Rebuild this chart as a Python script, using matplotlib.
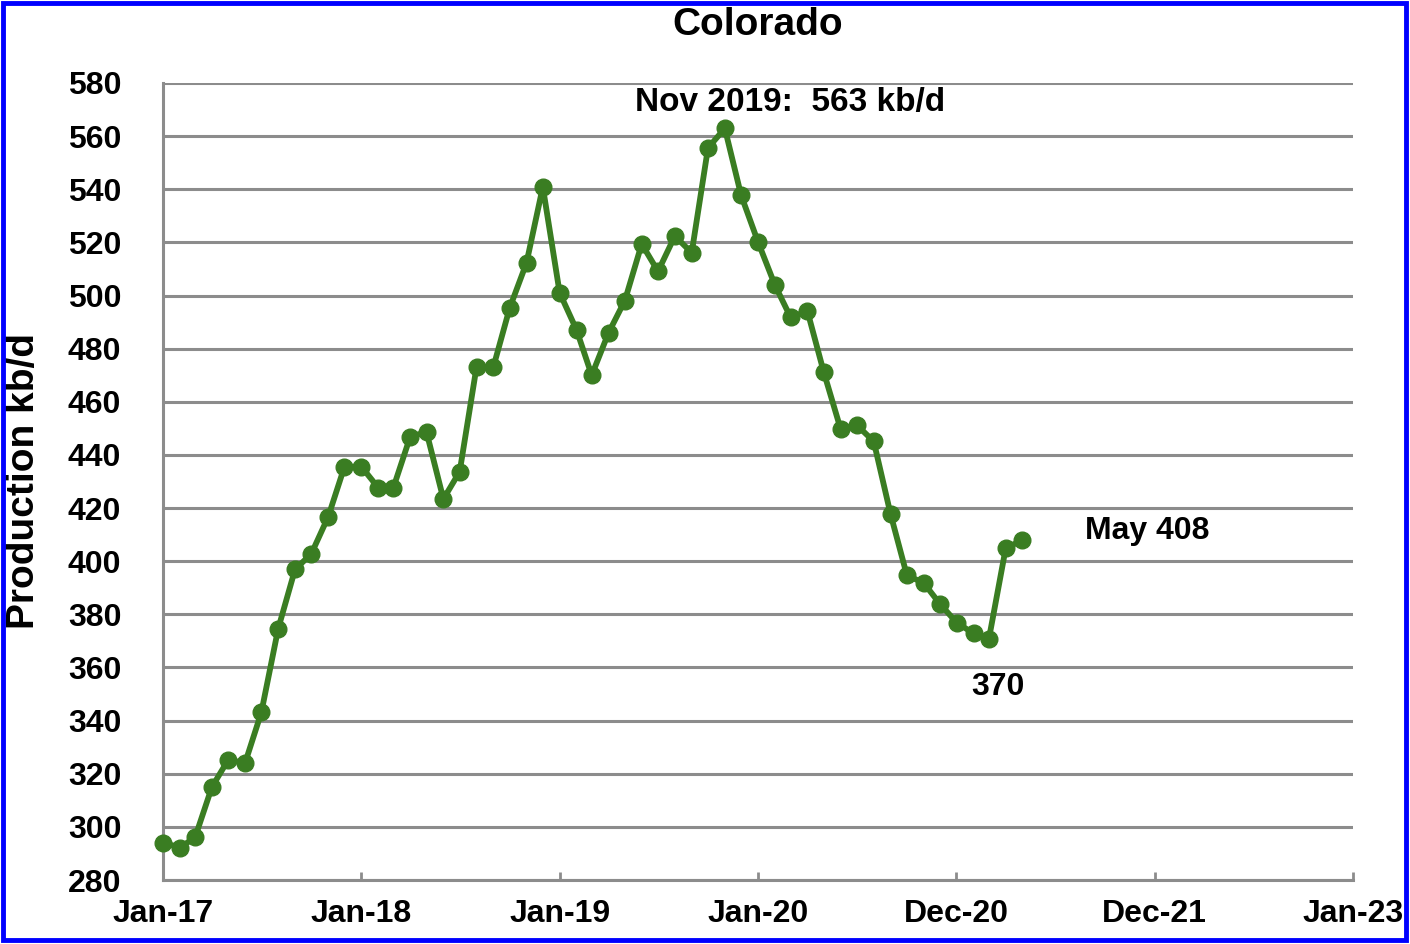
import datetime
import matplotlib
matplotlib.use('Agg')
import matplotlib.pyplot as plt
import matplotlib.dates as mdates
from matplotlib.patches import Rectangle

# monthly production, Jan 2017 .. May 2021 (kb/d)
production = [294.1, 292.2, 296.0, 315.0, 325.2, 324.0, 343.1, 374.6, 396.9, 402.8, 416.7, 435.6,
              435.6, 427.7, 427.7, 446.9, 448.6, 423.4, 433.7, 473.1, 473.1, 495.3, 512.3, 540.9,
              501.0, 487.1, 470.0, 486.0, 498.1, 519.4, 509.1, 522.4, 516.1, 555.6, 562.9, 537.7,
              520.2, 504.0, 491.8, 494.1, 471.2, 449.8, 451.2, 445.1, 417.7, 394.7, 391.8, 383.9,
              376.8, 372.8, 370.8, 405.0, 407.8]
months = [datetime.date(2017 + i // 12, i % 12 + 1, 1) for i in range(len(production))]

tick_labels = ['Jan-17', 'Jan-18', 'Jan-19', 'Jan-20', 'Dec-20', 'Dec-21', 'Jan-23']
y_ticks = list(range(280, 581, 20))

start = datetime.date(2017, 1, 1)
tick_dates = [start + datetime.timedelta(days=365 * k) for k in range(len(tick_labels))]

plt.rcParams['font.family'] = ['Liberation Sans', 'DejaVu Sans']
plt.rcParams['font.weight'] = 'bold'

grey = '#8c8c8c'
green = '#3a7d22'

fig = plt.figure(figsize=(14.1, 9.44), dpi=100)
ax = fig.add_axes([163 / 1410, 1 - 880 / 944, 1190 / 1410, 797 / 944])

ax.plot(months, production, color=green, lw=4.2, marker='o', ms=12, zorder=3, clip_on=False)

ax.set_xlim(tick_dates[0], tick_dates[-1])
ax.set_ylim(280, 580)
ax.set_yticks(y_ticks)
ax.set_xticks([mdates.date2num(d) for d in tick_dates])
ax.set_xticklabels(tick_labels)

ax.grid(axis='y', color=grey, lw=2.2)
ax.set_axisbelow(True)
for s in ['top', 'right']:
    ax.spines[s].set_visible(False)
for s in ['left', 'bottom']:
    ax.spines[s].set_color(grey)
    ax.spines[s].set_linewidth(2.2)

ax.tick_params(axis='y', length=0, pad=30, labelsize=23)
ax.tick_params(axis='x', direction='in', length=6, width=2, color=grey, pad=14, labelsize=23)

ax.set_ylabel('Production kb/d', fontsize=28, fontweight='bold')
ax.yaxis.set_label_coords(-0.102, 0.5)

fig.text(758 / 1410, 1 - 25 / 944, 'Colorado', fontsize=28, fontweight='bold',
         ha='center', va='center')

# annotations: peak, post-peak low, latest month
i_max = production.index(max(production))
low = min(production[i_max:])
i_min = i_max + production[i_max:].index(low)
ax.annotate('Nov 2019:  563 kb/d', (months[i_max], production[i_max]),
            xytext=(47, 19), textcoords='offset points', ha='center', va='center',
            fontsize=24, fontweight='bold')
ax.annotate('370', (months[i_min], production[i_min]),
            xytext=(6.5, -35), textcoords='offset points', ha='center', va='center',
            fontsize=23, fontweight='bold')
ax.annotate('May 408', (months[-1], production[-1]),
            xytext=(90, 6.5), textcoords='offset points', ha='center', va='center',
            fontsize=23, fontweight='bold')

# blue frame around the chart
fig.patches.append(Rectangle((3 / 1410, 4 / 944), 1403 / 1410, 937 / 944,
                             transform=fig.transFigure, fill=False,
                             edgecolor='#0000ff', lw=3.5, zorder=10))

fig.savefig('out.png', dpi=100)
